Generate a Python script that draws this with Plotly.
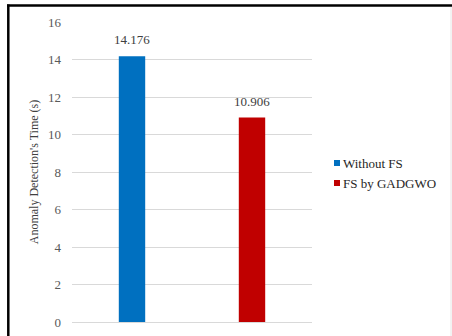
import plotly.graph_objects as go

categories = ["Without FS", "FS by GADGWO"]
values = [14.176, 10.906]
labels = ["14.176", "10.906"]
colors = ["#0070C0", "#C00000"]
y_ticks = [0, 2, 4, 6, 8, 10, 12, 14, 16]

W, H = 452, 336
L, R, T, B = 72, 140, 22, 14
PW, PH = W - L - R, H - T - B

def px2x(px):
    return (px - L) / PW

def py2y(py):
    return (H - B - py) / PH

SERIF = "Liberation Serif"

fig = go.Figure()
for c, v, col in zip(categories, values, colors):
    fig.add_trace(go.Bar(
        x=[c], y=[v], name=c, marker=dict(color=col, line=dict(width=0)),
        width=0.22, showlegend=False,
    ))

shapes = []
annotations = []
# data labels
for c, v, lab in zip(categories, values, labels):
    annotations.append(dict(x=c, y=v, xref="x", yref="y", text=lab, showarrow=False,
                            yanchor="bottom", yshift=7,
                            font=dict(family=SERIF, size=13, color="#404040")))
# legend (squares + text)
leg_y = [163, 183]
for c, col, yy in zip(categories, colors, leg_y):
    shapes.append(dict(type="rect", xref="paper", yref="paper",
                       x0=px2x(334), x1=px2x(340), y0=py2y(yy + 3), y1=py2y(yy - 3),
                       fillcolor=col, line=dict(width=0)))
    annotations.append(dict(xref="paper", yref="paper", x=px2x(341), y=py2y(yy),
                            text=c, showarrow=False, xanchor="left", yanchor="middle",
                            font=dict(family=SERIF, size=13, color="#262626")))

# outer frame lines
shapes.append(dict(type="line", xref="paper", yref="paper",
                   x0=px2x(7), x1=px2x(452), y0=py2y(5.5), y1=py2y(5.5),
                   line=dict(color="black", width=2.5)))
shapes.append(dict(type="line", xref="paper", yref="paper",
                   x0=px2x(8.3), x1=px2x(8.3), y0=py2y(4.5), y1=py2y(336),
                   line=dict(color="black", width=2.5)))
shapes.append(dict(type="line", xref="paper", yref="paper",
                   x0=px2x(451), x1=px2x(451), y0=py2y(7), y1=py2y(336),
                   line=dict(color="#E6E6E6", width=1)))

fig.update_layout(
    width=W, height=H, margin=dict(l=L, r=R, t=T, b=B, autoexpand=False),
    paper_bgcolor="white", plot_bgcolor="white",
    barmode="overlay", showlegend=False,
    font=dict(family=SERIF, size=13, color="#595959"),
    shapes=shapes, annotations=annotations,
)
fig.update_xaxes(showticklabels=False, showgrid=False, zeroline=False,
                 showline=False, ticks="", categoryorder="array",
                 categoryarray=categories)
fig.update_yaxes(range=[0, 16], tickvals=y_ticks, showgrid=True,
                 gridcolor="#D9D9D9", gridwidth=1, zeroline=True,
                 zerolinecolor="#D9D9D9", zerolinewidth=1, showline=False,
                 ticks="", ticklabelstandoff=10,
                 tickfont=dict(family=SERIF, size=13, color="#595959"),
                 title=dict(text="Anomaly Detection's Time (s)", standoff=6,
                            font=dict(family=SERIF, size=12, color="#404040")))

fig.write_html("out.html")
